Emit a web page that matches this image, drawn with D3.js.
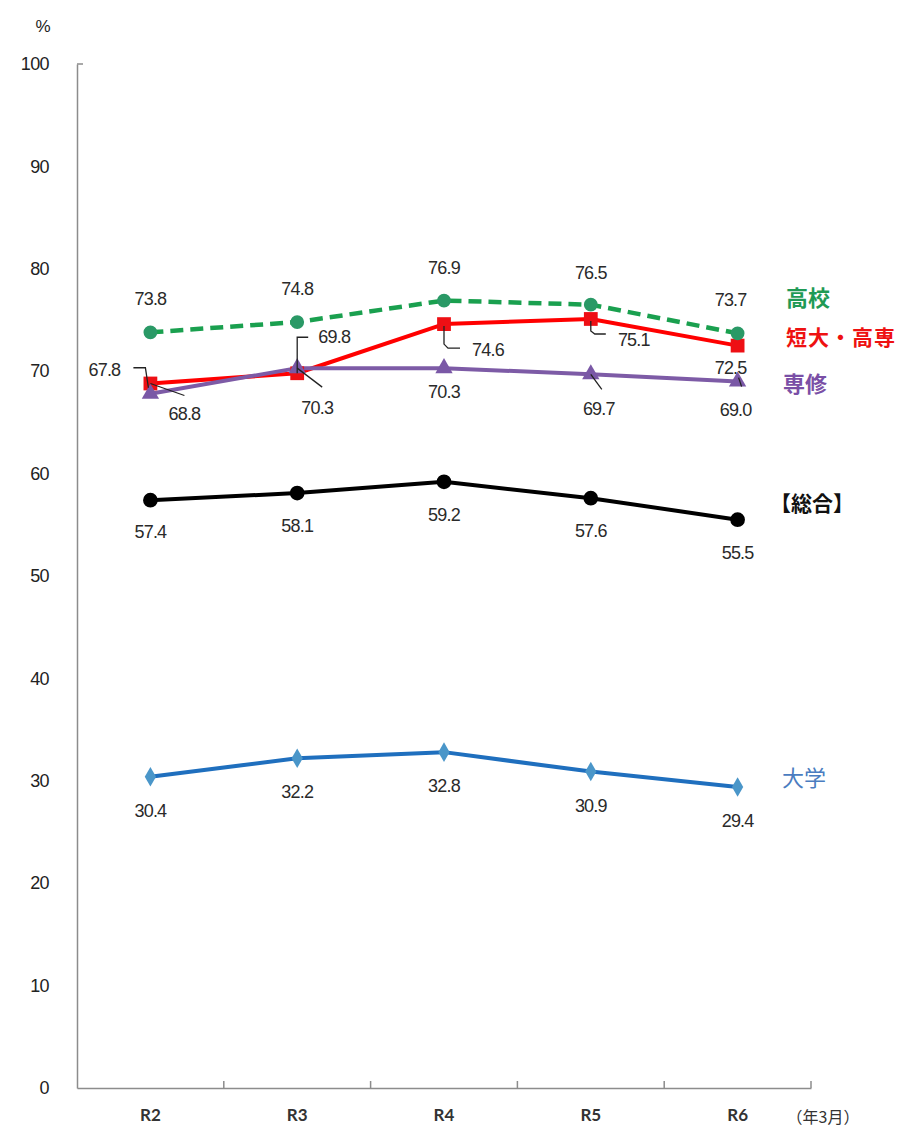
<!DOCTYPE html>
<html>
<head>
<meta charset="utf-8">
<script src="https://cdn.jsdelivr.net/npm/d3@7/dist/d3.min.js"></script>
<style>
  html, body { margin: 0; padding: 0; background: #fff; }
  svg { font-family: "Liberation Sans", Arial, sans-serif; }
  .jp { font-family: "Noto Sans CJK JP", sans-serif; }
</style>
</head>
<body>
<svg id="chart" width="905" height="1131"></svg>
<script>
// Categories (year, March) and series values in %
const years = ["R2", "R3", "R4", "R5", "R6"];
const yTicks = [0, 10, 20, 30, 40, 50, 60, 70, 80, 90, 100];
const koukou = [73.8, 74.8, 76.9, 76.5, 73.7];      // 高校
const tandai = [68.8, 69.8, 74.6, 75.1, 72.5];      // 短大・高専
const senshu = [67.8, 70.3, 70.3, 69.7, 69.0];      // 専修
const sougou = [57.4, 58.1, 59.2, 57.6, 55.5];      // 【総合】
const daigaku = [30.4, 32.2, 32.8, 30.9, 29.4];     // 大学
const seriesNames = ["高校", "短大・高専", "専修", "【総合】", "大学"];

(function () {
const svg = d3.select("#chart");
const mLeft = 77, mRight = 811, mTop = 64, mBottom = 1088;

const x = d3.scaleBand().domain(years).range([mLeft, mRight]);
const y = d3.scaleLinear().domain([0, 100]).range([mBottom, mTop]);
const cx = d => x(d) + x.bandwidth() / 2;

// Axes
const axisColor = "#8c8c8c";
const yAxis = d3.axisLeft(y).tickValues(yTicks).tickSize(0).tickPadding(28);
const gy = svg.append("g").attr("transform", `translate(${mLeft},0)`).call(yAxis);
gy.select(".domain").attr("stroke", axisColor).attr("stroke-width", 1.5);
gy.selectAll("text").attr("font-size", 18).attr("fill", "#222").attr("letter-spacing", -0.6)
  .attr("font-family", "Liberation Sans, Arial, sans-serif");
svg.append("line").attr("x1", mLeft).attr("x2", mLeft + 6).attr("y1", y(100)).attr("y2", y(100))
  .attr("stroke", axisColor).attr("stroke-width", 1.5);

const xAxis = d3.axisBottom(x).tickSize(0).tickPadding(21);
const gx = svg.append("g").attr("transform", `translate(0,${mBottom})`).call(xAxis);
gx.select(".domain").attr("stroke", axisColor).attr("stroke-width", 1.5);
gx.selectAll("text").attr("font-size", 17).attr("font-weight", "bold").attr("fill", "#333")
  .attr("font-family", "Lato, sans-serif");
// boundary ticks between categories
gx.selectAll(".bt").data(years).enter().append("line")
  .attr("x1", (d, i) => mLeft + x.step() * (i + 1))
  .attr("x2", (d, i) => mLeft + x.step() * (i + 1))
  .attr("y1", 0).attr("y2", -7).attr("stroke", axisColor).attr("stroke-width", 1.5);

svg.append("text").attr("x", 43).attr("y", 32).attr("text-anchor", "middle")
  .attr("font-size", 17).attr("fill", "#222").text("%");
svg.append("text").attr("class", "jp").attr("x", 823).attr("y", 1123).attr("text-anchor", "middle")
  .attr("font-size", 16).attr("fill", "#333").text("（年3月）");

const line = d3.line().x((d, i) => cx(years[i])).y(d => y(d));

function drawLine(vals, color, width, dash) {
  svg.append("path").datum(vals).attr("d", line).attr("fill", "none")
    .attr("stroke", color).attr("stroke-width", width)
    .attr("stroke-dasharray", dash || null).attr("stroke-linejoin", "round");
}

// Draw order: lower series first
drawLine(daigaku, "#1f6fbe", 4);
drawLine(sougou, "#000", 4);
drawLine(tandai, "#ff0000", 4);
drawLine(senshu, "#7d5ba6", 4);
drawLine(koukou, "#1aa04f", 4.5, "13,7");

// Markers
const sym = (type, size) => d3.symbol().type(type).size(size)();
function markers(vals, type, size, fill) {
  svg.append("g").selectAll("path").data(vals).enter().append("path")
    .attr("d", sym(type, size)).attr("fill", fill)
    .attr("transform", (d, i) => `translate(${cx(years[i])},${y(d)})`);
}
markers(daigaku, d3.symbolDiamond, 110, "#4a96c9");
markers(sougou, d3.symbolCircle, 170, "#000");
markers(tandai, d3.symbolSquare, 190, "#ee0f14");
markers(senshu, d3.symbolTriangle, 130, "#7a58a6");
markers(koukou, d3.symbolCircle, 150, "#2a9966");

// Value labels: [dx, dy] from the point to label centre; optional leader polyline offsets
function valueLabels(vals, offs, leaders) {
  vals.forEach((v, i) => {
    const px = cx(years[i]), py = y(v);
    const [dx, dy] = offs[i];
    if (leaders && leaders[i]) {
      const pts = leaders[i].map(([ax, ay]) => [px + ax, py + ay]);
      svg.append("path").attr("d", d3.line()(pts)).attr("fill", "none")
        .attr("stroke", "#222").attr("stroke-width", 1.3);
    }
    svg.append("text").attr("x", px + dx).attr("y", py + dy).attr("text-anchor", "middle")
      .attr("dominant-baseline", "central").attr("font-size", 18)
      .attr("fill", "#2a2a2a").attr("letter-spacing", -0.8).text(v.toFixed(1));
  });
}

valueLabels(koukou, [[0, -33], [0, -33], [0, -33], [0, -32], [-7, -33]]);
valueLabels(tandai, [[34, 31], [37, -36], [44, 26], [43, 21], [-7, 22]],
  [[[0, 0], [34, 12]], [[0, 0], [0, -36], [11, -36]], [[0, 2], [0, 20], [4, 24], [16, 24]],
   [[0, 2], [0, 12], [4, 15], [15, 15]], [[1, 32], [4, 41]]]);
valueLabels(senshu, [[-46, -24], [20, 40], [0, 24], [8, 35], [-2, 29]],
  [[[-2, -6], [-5, -26], [-17, -26]], [[0, 0], [25, 19]], null, [[0, 0], [11, 15]], null]);
valueLabels(sougou, [[0, 32], [0, 33], [0, 33], [0, 33], [0, 33]]);
valueLabels(daigaku, [[0, 34], [0, 34], [0, 34], [0, 34], [0, 34]]);

// Series name labels at the right
const nameStyle = [
  { t: seriesNames[0], v: koukou[4], x: 808, dy: -37, c: "#1f9a55", w: "bold" },
  { t: seriesNames[1], v: tandai[4], x: 841, dy: -10, c: "#ee1111", w: "bold" },
  { t: seriesNames[2], v: senshu[4], x: 805, dy: 1, c: "#7a4fa6", w: "bold" },
  { t: seriesNames[3], v: sougou[4], x: 812, dy: -18, c: "#111", w: "bold" },
  { t: seriesNames[4], v: daigaku[4], x: 804, dy: -11, c: "#4a7cc0", w: "normal" }
];
svg.append("g").selectAll("text").data(nameStyle).enter().append("text")
  .attr("class", "jp")
  .attr("x", d => d.x).attr("y", d => y(d.v) + d.dy)
  .attr("text-anchor", "middle").attr("dominant-baseline", "central")
  .attr("font-size", d => d.t.length > 3 ? 21 : 22).attr("font-weight", d => d.w)
  .attr("letter-spacing", d => d.t.length === 5 ? 1 : 0)
  .attr("fill", d => d.c).text(d => d.t);
})();
</script>
</body>
</html>
